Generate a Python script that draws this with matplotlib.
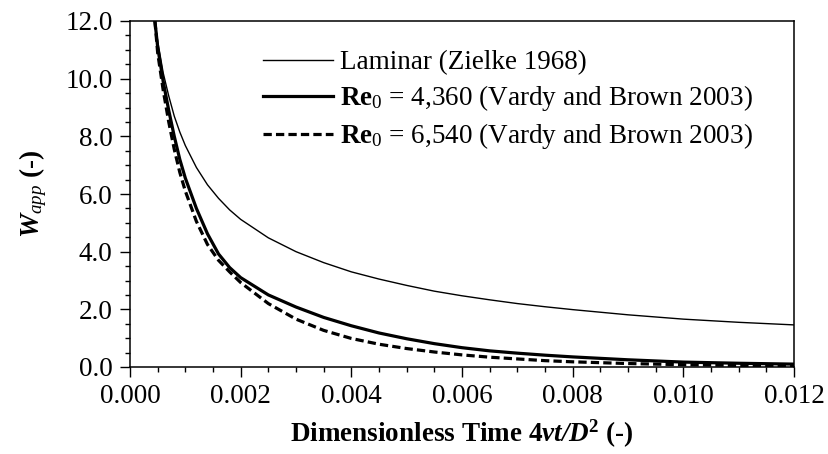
import matplotlib
matplotlib.use("Agg")
import matplotlib.pyplot as plt
from matplotlib.ticker import MultipleLocator, FormatStrFormatter

plt.rcParams['font.family'] = ['Liberation Serif', 'DejaVu Serif']
plt.rcParams['mathtext.fontset'] = 'custom'
plt.rcParams['mathtext.rm'] = 'Liberation Serif'
plt.rcParams['mathtext.it'] = 'Liberation Serif:italic'
plt.rcParams['mathtext.bf'] = 'Liberation Serif:bold'
plt.rcParams['mathtext.bfit'] = 'Liberation Serif:italic:bold'

# Dimensionless time values
tau = [0.00045, 0.0005, 0.0006, 0.0007, 0.0008, 0.0009, 0.0010, 0.0012, 0.0014,
       0.0016, 0.0018, 0.0020, 0.0025, 0.0030, 0.0035, 0.0040, 0.0045, 0.0050,
       0.0055, 0.0060, 0.0065, 0.0070, 0.0075, 0.0080, 0.0090, 0.0100, 0.0110,
       0.0120]

# Laminar (Zielke 1968)
w_lam = [12.0, 11.3, 10.2, 9.4, 8.7, 8.15, 7.68, 6.92, 6.32,
         5.85, 5.45, 5.12, 4.48, 4.00, 3.62, 3.30, 3.05, 2.83,
         2.63, 2.47, 2.33, 2.20, 2.09, 1.99, 1.81, 1.66, 1.55,
         1.46]

# Re0 = 4,360 (Vardy and Brown 2003)
w_re1 = [12.0, 11.1, 9.9, 8.9, 8.0, 7.2, 6.55, 5.5, 4.62,
         3.92, 3.45, 3.10, 2.50, 2.08, 1.72, 1.43, 1.18, 0.98,
         0.81, 0.67, 0.56, 0.48, 0.41, 0.35, 0.25, 0.17, 0.13,
         0.10]

# Re0 = 6,540 (Vardy and Brown 2003)
w_re2 = [12.0, 10.9, 9.6, 8.5, 7.55, 6.75, 6.1, 5.05, 4.25,
         3.70, 3.30, 2.93, 2.20, 1.66, 1.27, 0.99, 0.79, 0.64,
         0.52, 0.42, 0.34, 0.28, 0.22, 0.18, 0.12, 0.08, 0.055,
         0.04]

labels = ['Laminar (Zielke 1968)',
          r'$\mathbf{Re}_{\mathrm{0}}$ = 4,360 (Vardy and Brown 2003)',
          r'$\mathbf{Re}_{\mathrm{0}}$ = 6,540 (Vardy and Brown 2003)']

fig = plt.figure(figsize=(8.29, 4.54), dpi=100)
ax = fig.add_axes([130/829, 1-367/454, (794-130)/829, (367-21)/454])

ax.plot(tau, w_lam, color='black', lw=1.0, label=labels[0])
ax.plot(tau, w_re1, color='black', lw=2.3, label=labels[1])
ax.plot(tau, w_re2, color='black', lw=2.3, dashes=(2.6, 1.3), label=labels[2])

ax.set_xlim(0, 0.012)
ax.set_ylim(0, 12)
ax.xaxis.set_major_locator(MultipleLocator(0.002))
ax.xaxis.set_minor_locator(MultipleLocator(0.0005))
ax.yaxis.set_major_locator(MultipleLocator(2.0))
ax.yaxis.set_minor_locator(MultipleLocator(0.5))
ax.xaxis.set_major_formatter(FormatStrFormatter('%.3f'))
ax.yaxis.set_major_formatter(FormatStrFormatter('%.1f'))

ax.tick_params(which='both', direction='out', top=False, right=False, width=1.0,
               labelsize=19.5, color='black')
ax.tick_params(which='major', length=7.5, pad=5)
ax.tick_params(which='minor', length=3.5)
for s in ax.spines.values():
    s.set_linewidth(1.1)
    s.set_color('black')

ax.set_xlabel(r'Dimensionless Time 4$\mathbfit{\nu t/D}^{\mathbf{2}}$ (-)',
              fontsize=19.5, fontweight='bold', labelpad=6)
ax.set_ylabel(r'$\mathbfit{W}_{\mathit{app}}$ (-)', fontsize=19.5,
              fontweight='bold', labelpad=12)

leg = ax.legend(loc='upper left', bbox_to_anchor=((263-130)/664, 1-(50-21)/346),
                frameon=False, fontsize=19.5, handlelength=2.6, handletextpad=0.25,
                labelspacing=0.3, borderaxespad=0, borderpad=0)

fig.savefig('out.png', dpi=100)
